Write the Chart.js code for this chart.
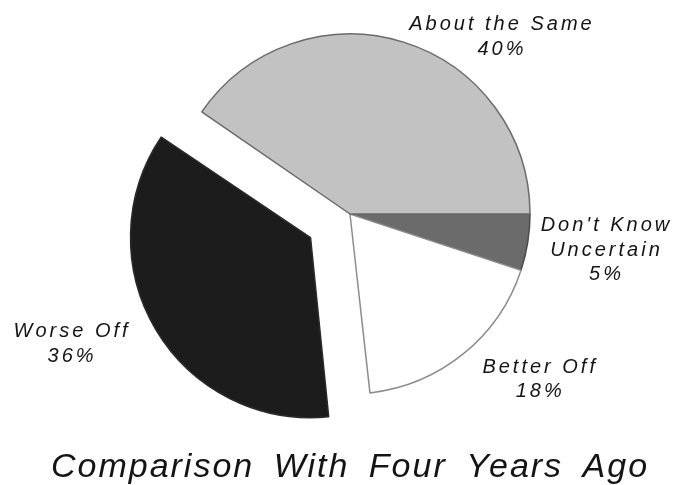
<!DOCTYPE html>
<html>
<head>
<meta charset="utf-8">
<script src="https://cdn.jsdelivr.net/npm/chart.js@4.4.0/dist/chart.umd.min.js"></script>
<style>
  html, body { margin: 0; padding: 0; background: #fff; }
  canvas { display: block; }
</style>
</head>
<body>
<canvas id="chart" width="675" height="485"></canvas>
<script>
'use strict';

// slices go clockwise from 3 o'clock
const categories = [["Don't Know", 'Uncertain'], ['Better Off'], ['Worse Off'], ['About the Same']];
const shares = [5, 18, 36, 40];
const sliceColors = ['#6b6b6b', '#ffffff', '#1c1c1c', '#c2c2c2'];
const edgeColors = ['#4a4a4a', '#8c8c8c', '#2a2a2a', '#6a6a6a'];
const explode = [0, 0, 46, 0]; // px the slice is pulled out
const chartTitle = 'Comparison With Four Years Ago';

// label block placement: angle (deg, clockwise from east) and distance from the slice apex
const labelAngles = [8, 41, 156, 310.6];
const labelDist = [259, 252, 261, 233.5];

// chart.js v4 moves an arc by offset/4 and also grows its radius a bit;
// keep the pulled-out slice the same size as the rest
const keepRadius = {
  id: 'keepRadius',
  beforeDatasetsDraw(chart) {
    const meta = chart.getDatasetMeta(0);
    const base = meta.controller.outerRadius;
    meta.data.forEach((arc, i) => {
      const shift = explode[i];
      const circ = arc.endAngle - arc.startAngle;
      const grow = shift * (1 - Math.sin(Math.min(Math.PI, circ)));
      arc.outerRadius = base - grow;
    });
  }
};

const pieLabels = {
  id: 'pieLabels',
  afterDraw(chart) {
    const ctx = chart.ctx;
    const meta = chart.getDatasetMeta(0);
    ctx.save();
    ctx.fillStyle = '#141414';
    ctx.textAlign = 'center';
    ctx.textBaseline = 'middle';
    ctx.font = 'italic 20px "Liberation Sans", Arial, sans-serif';
    ctx.letterSpacing = '3px';
    meta.data.forEach((arc, i) => {
      const mid = (arc.startAngle + arc.endAngle) / 2;
      const cx = arc.x + Math.cos(mid) * explode[i];
      const cy = arc.y + Math.sin(mid) * explode[i];
      const a = labelAngles[i] * Math.PI / 180;
      const x = cx + Math.cos(a) * labelDist[i];
      const y = cy + Math.sin(a) * labelDist[i];
      const lines = categories[i].concat(shares[i] + '%');
      lines.forEach((t, k) => {
        ctx.fillText(t, x, y + (k - (lines.length - 1) / 2) * 24.5);
      });
    });

    ctx.font = 'italic 34px "Liberation Sans", Arial, sans-serif';
    ctx.letterSpacing = '2px';
    ctx.wordSpacing = '8px';
    ctx.textBaseline = 'alphabetic';
    const area = chart.chartArea;
    ctx.fillText(chartTitle, (area.left + area.right) / 2, chart.height - 8);
    ctx.restore();
  }
};

new Chart(document.getElementById('chart'), {
  type: 'pie',
  data: {
    labels: categories.map(c => c.join(' ')),
    datasets: [{
      data: shares,
      backgroundColor: sliceColors,
      borderColor: edgeColors,
      borderWidth: 1.5,
      offset: explode.map(v => v * 4)
    }]
  },
  options: {
    responsive: false,
    animation: false,
    rotation: 90,
    radius: 180,
    layout: { padding: { left: 25, right: 0, top: 0, bottom: 57 } },
    plugins: {
      legend: { display: false },
      tooltip: { enabled: false }
    }
  },
  plugins: [keepRadius, pieLabels]
});
</script>
</body>
</html>
